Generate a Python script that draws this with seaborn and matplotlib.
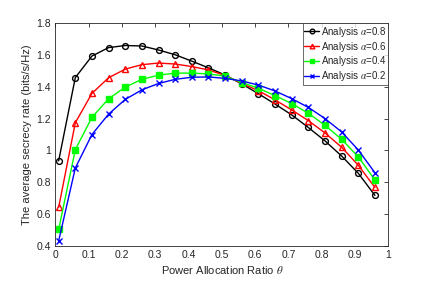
import numpy as np
import pandas as pd
import matplotlib
matplotlib.use("Agg")
import matplotlib.pyplot as plt
import seaborn as sns

theta = [0.01, 0.06, 0.11, 0.16, 0.21, 0.26, 0.31, 0.36, 0.41, 0.46,
         0.51, 0.56, 0.61, 0.66, 0.71, 0.76, 0.81, 0.86, 0.91, 0.96]

rate_a08 = [0.935, 1.457, 1.592, 1.645, 1.658, 1.655, 1.630, 1.600, 1.560, 1.518,
            1.473, 1.417, 1.356, 1.291, 1.223, 1.144, 1.060, 0.965, 0.857, 0.718]
rate_a06 = [0.643, 1.174, 1.358, 1.456, 1.510, 1.538, 1.548, 1.542, 1.526, 1.505,
            1.470, 1.420, 1.375, 1.317, 1.254, 1.187, 1.110, 1.020, 0.907, 0.768]
rate_a04 = [0.505, 1.005, 1.208, 1.324, 1.397, 1.446, 1.472, 1.485, 1.485, 1.480,
            1.466, 1.426, 1.390, 1.344, 1.294, 1.233, 1.158, 1.070, 0.960, 0.815]
rate_a02 = [0.433, 0.890, 1.100, 1.228, 1.320, 1.380, 1.420, 1.446, 1.459, 1.461,
            1.452, 1.436, 1.410, 1.373, 1.325, 1.270, 1.200, 1.116, 1.003, 0.860]

labels = [r"Analysis $\alpha$=0.8", r"Analysis $\alpha$=0.6",
          r"Analysis $\alpha$=0.4", r"Analysis $\alpha$=0.2"]
series = [rate_a08, rate_a06, rate_a04, rate_a02]

sns.set_style("white")
plt.rcParams["font.family"] = ["Liberation Sans Narrow", "Liberation Sans", "DejaVu Sans"]
plt.rcParams["mathtext.fontset"] = "stix"

fig = plt.figure(figsize=(4.29, 3.05), dpi=100)
ax = fig.add_axes([0.129, 0.193, 0.776, 0.732])

styles = [
    dict(color="black", marker="o", markerfacecolor="none"),
    dict(color="red", marker="^", markerfacecolor="none"),
    dict(color="#00ff00", marker="s", markerfacecolor="#00ff00"),
    dict(color="blue", marker="x", markerfacecolor="blue"),
]

for lab, vals, st in zip(labels, series, styles):
    df = pd.DataFrame({"theta": theta, "rate": vals})
    sns.lineplot(data=df, x="theta", y="rate", ax=ax, label=lab,
                 color=st["color"], marker=st["marker"],
                 markerfacecolor=st["markerfacecolor"],
                 markeredgecolor=st["color"], markeredgewidth=1.0,
                 markersize=4.2, linewidth=1.0)

ax.set_xlim(0, 1)
ax.set_ylim(0.4, 1.8)
ax.set_xticks(np.arange(0, 1.01, 0.1))
ax.set_xticklabels(["0", "0.1", "0.2", "0.3", "0.4", "0.5", "0.6", "0.7", "0.8", "0.9", "1"])
ax.set_yticks(np.arange(0.4, 1.81, 0.2))
ax.set_yticklabels(["0.4", "0.6", "0.8", "1", "1.2", "1.4", "1.6", "1.8"])

gray = "#262626"
ax.tick_params(direction="in", top=True, right=True, length=3, width=0.6,
               labelsize=7.5, colors=gray, pad=3)
for sp in ax.spines.values():
    sp.set_visible(True)
    sp.set_color(gray)
    sp.set_linewidth(0.6)

ax.set_xlabel(r"Power Allocation Ratio $\theta$", fontsize=8, color=gray, labelpad=3)
ax.set_ylabel("The average secrecy rate (bits/s/Hz)", fontsize=8, color=gray, labelpad=3)

leg = ax.legend(loc="upper right", fontsize=7, frameon=True, fancybox=False,
                borderaxespad=0, handlelength=1.5, handletextpad=0.2,
                labelspacing=0.08, borderpad=0.2, markerscale=0.8)
leg.get_frame().set_edgecolor(gray)
leg.get_frame().set_linewidth(0.6)

fig.savefig("out.png", dpi=100)
